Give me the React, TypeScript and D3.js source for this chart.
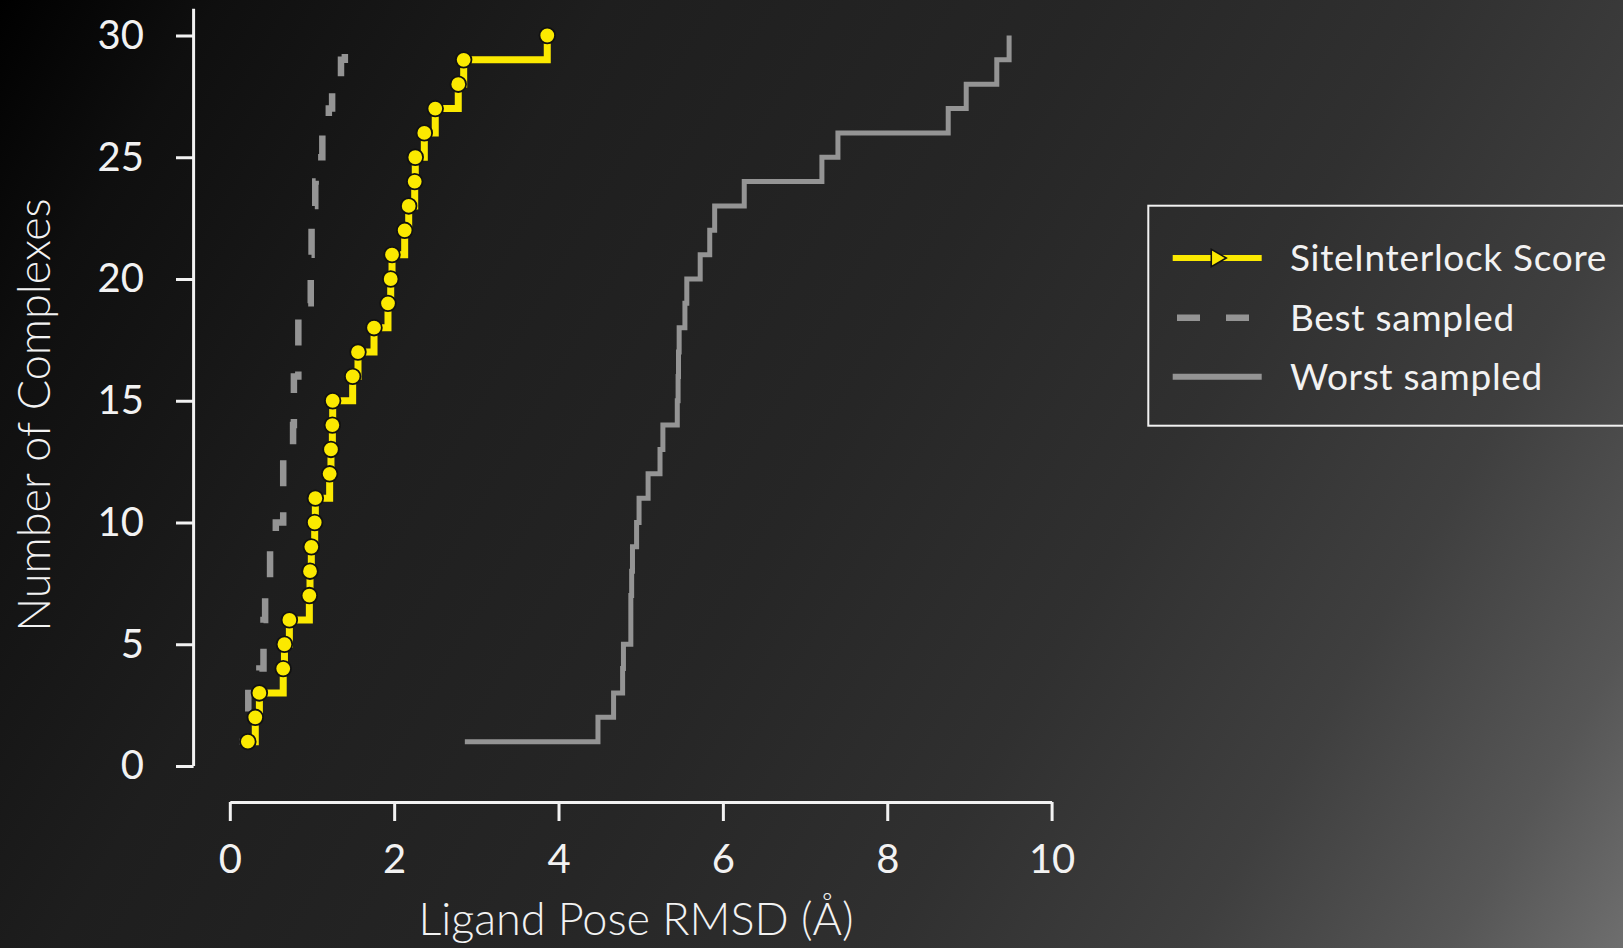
import React, { useRef, useEffect } from "react";
import * as d3 from "d3";

// number of complexes reached at each RMSD value (cumulative count)
const complexCounts = [
    1, 2, 3, 4, 5, 6, 7, 8, 9, 10, 11, 12, 13, 14, 15,
    16, 17, 18, 19, 20, 21, 22, 23, 24, 25, 26, 27, 28, 29, 30,
];

const siteInterlockRmsd = [
    0.22, 0.31, 0.36, 0.65, 0.665, 0.725, 0.968, 0.976, 0.992, 1.033,
    1.041, 1.215, 1.231, 1.248, 1.252, 1.495, 1.56, 1.755, 1.925, 1.958,
    1.974, 2.128, 2.177, 2.25, 2.257, 2.367, 2.5, 2.78, 2.846, 3.863,
];

const bestSampledRmsd = [
    0.12, 0.22, 0.225, 0.36, 0.41, 0.41, 0.43, 0.49, 0.49, 0.56,
    0.65, 0.65, 0.65, 0.77, 0.78, 0.78, 0.834, 0.834, 0.834, 0.985,
    0.985, 0.995, 0.995, 1.04, 1.045, 1.126, 1.205, 1.245, 1.353, 1.4,
];

const worstSampledRmsd = [
    2.86, 4.48, 4.67, 4.78, 4.79, 4.88, 4.88, 4.89, 4.9, 4.95,
    4.98, 5.09, 5.235, 5.27, 5.445, 5.455, 5.46, 5.468, 5.538, 5.561,
    5.724, 5.84, 5.9, 6.26, 7.205, 7.4, 8.742, 8.961, 9.333, 9.483,
];

const xTicks = [0, 2, 4, 6, 8, 10];
const yTicks = [0, 5, 10, 15, 20, 25, 30];
const legendLabels = ["SiteInterlock Score", "Best sampled", "Worst sampled"];

const YELLOW = "#fbe900";
const GRAY = "#949494";
const INK = "#f2f2f2";
const FONT = "Lato, 'Open Sans', sans-serif";

export default function App() {
    const ref = useRef<SVGSVGElement>(null);

    useEffect(() => {
        const svg = d3.select(ref.current);
        svg.selectAll("*").remove();
        const width = 1623;
        const height = 948;

        const x = d3.scaleLinear().domain([0, 10]).range([229.8, 1051.6]);
        const y = d3.scaleLinear().domain([0, 30]).range([766, 35.5]);

        // background
        const defs = svg.append("defs");
        const grad = defs
            .append("linearGradient")
            .attr("id", "bg")
            .attr("gradientUnits", "userSpaceOnUse")
            .attr("x1", 0)
            .attr("y1", 0)
            .attr("x2", width)
            .attr("y2", height);
        [
            [0, "#000000"],
            [0.1, "#0f0f0f"],
            [0.28, "#1e1e1e"],
            [0.5, "#262626"],
            [0.66, "#303030"],
            [0.8, "#3f3f3f"],
            [0.92, "#565656"],
            [1, "#6e6e6e"],
        ].forEach(([o, c]) => grad.append("stop").attr("offset", o as number).attr("stop-color", c as string));
        svg.append("rect").attr("width", width).attr("height", height).attr("fill", "url(#bg)");

        // y axis
        const yAxis = svg
            .append("g")
            .attr("transform", "translate(193.6,0)")
            .call(d3.axisLeft(y).tickValues(yTicks).tickSize(17.6).tickSizeOuter(0).tickPadding(32));
        yAxis.select(".domain").remove();
        yAxis
            .append("line")
            .attr("y1", y(0))
            .attr("y2", y(31.1))
            .attr("stroke", INK)
            .attr("stroke-width", 3);
        yAxis.selectAll(".tick line").attr("stroke", INK).attr("stroke-width", 3);
        yAxis
            .selectAll(".tick text")
            .attr("fill", INK)
            .style("font-family", FONT)
            .style("font-size", "40px");

        // x axis
        const xAxis = svg
            .append("g")
            .attr("transform", "translate(0,802)")
            .call(d3.axisBottom(x).tickValues(xTicks).tickSize(19).tickSizeOuter(0).tickPadding(24));
        xAxis.select(".domain").attr("stroke", INK).attr("stroke-width", 3);
        xAxis.selectAll(".tick line").attr("stroke", INK).attr("stroke-width", 3);
        xAxis
            .selectAll(".tick text")
            .attr("fill", INK)
            .style("font-family", FONT)
            .style("font-size", "40px");

        // axis titles
        svg.append("text")
            .attr("x", 636)
            .attr("y", 935)
            .attr("text-anchor", "middle")
            .attr("fill", INK)
            .style("font-family", FONT)
            .style("font-weight", 300)
            .style("font-size", "45px")
            .text("Ligand Pose RMSD (Å)");
        svg.append("text")
            .attr("transform", "translate(50,415) rotate(-90)")
            .attr("text-anchor", "middle")
            .attr("fill", INK)
            .style("font-family", FONT)
            .style("font-weight", 300)
            .style("font-size", "45px")
            .text("Number of Complexes");

        const step = d3
            .line<number>()
            .x((d) => x(d))
            .y((d, i) => y(complexCounts[i]))
            .curve(d3.curveStepAfter);

        // worst sampled
        svg.append("path")
            .datum(worstSampledRmsd)
            .attr("d", step)
            .attr("fill", "none")
            .attr("stroke", GRAY)
            .attr("stroke-width", 5);

        // best sampled (dash phase chosen so the last dash stops short of the top)
        const best = svg
            .append("path")
            .datum(bestSampledRmsd)
            .attr("d", step)
            .attr("fill", "none")
            .attr("stroke", GRAY)
            .attr("stroke-width", 6.5)
            .attr("stroke-dasharray", "26,26");
        const bestLen = (best.node() as SVGPathElement).getTotalLength();
        const phase = (((26 + 18.5 - bestLen) % 52) + 52) % 52;
        best.attr("stroke-dashoffset", phase);

        // site interlock score
        svg.append("path")
            .datum(siteInterlockRmsd)
            .attr("d", step)
            .attr("fill", "none")
            .attr("stroke", YELLOW)
            .attr("stroke-width", 7);
        svg.append("g")
            .selectAll("circle")
            .data(siteInterlockRmsd)
            .enter()
            .append("circle")
            .attr("cx", (d) => x(d))
            .attr("cy", (d, i) => y(complexCounts[i]))
            .attr("r", 7.8)
            .attr("fill", YELLOW)
            .attr("stroke", "#111")
            .attr("stroke-width", 1.8);

        // legend
        const legend = svg.append("g").attr("transform", "translate(1148.3,205.7)");
        legend
            .append("rect")
            .attr("width", 520)
            .attr("height", 220)
            .attr("fill", "none")
            .attr("stroke", INK)
            .attr("stroke-width", 2);
        const rows = [52.3, 112, 171];
        legend
            .append("line")
            .attr("x1", 24.4)
            .attr("x2", 113.4)
            .attr("y1", rows[0])
            .attr("y2", rows[0])
            .attr("stroke", YELLOW)
            .attr("stroke-width", 6);
        legend
            .append("path")
            .attr("d", d3.symbol(d3.symbolTriangle, 130)())
            .attr("transform", `translate(68,${rows[0]}) rotate(90)`)
            .attr("fill", YELLOW)
            .attr("stroke", "#111")
            .attr("stroke-width", 1.5);
        legend
            .append("line")
            .attr("x1", 28.7)
            .attr("x2", 101)
            .attr("y1", rows[1])
            .attr("y2", rows[1])
            .attr("stroke", GRAY)
            .attr("stroke-width", 6.5)
            .attr("stroke-dasharray", "23,26");
        legend
            .append("line")
            .attr("x1", 24.4)
            .attr("x2", 113.4)
            .attr("y1", rows[2])
            .attr("y2", rows[2])
            .attr("stroke", GRAY)
            .attr("stroke-width", 6);
        legend
            .selectAll("text.label")
            .data(legendLabels)
            .enter()
            .append("text")
            .attr("class", "label")
            .attr("x", 141.7)
            .attr("y", (d, i) => rows[i] + 13.5)
            .attr("fill", INK)
            .style("font-family", FONT)
            .style("font-size", "37px")
            .style("letter-spacing", "0.7px")
            .text((d) => d);
    }, []);

    return (
        <div style={{ position: "fixed", left: 0, top: 0, overflow: "hidden" }}>
            <svg ref={ref} width="1623" height="948" style={{ display: "block" }}></svg>
        </div>
    );
}
